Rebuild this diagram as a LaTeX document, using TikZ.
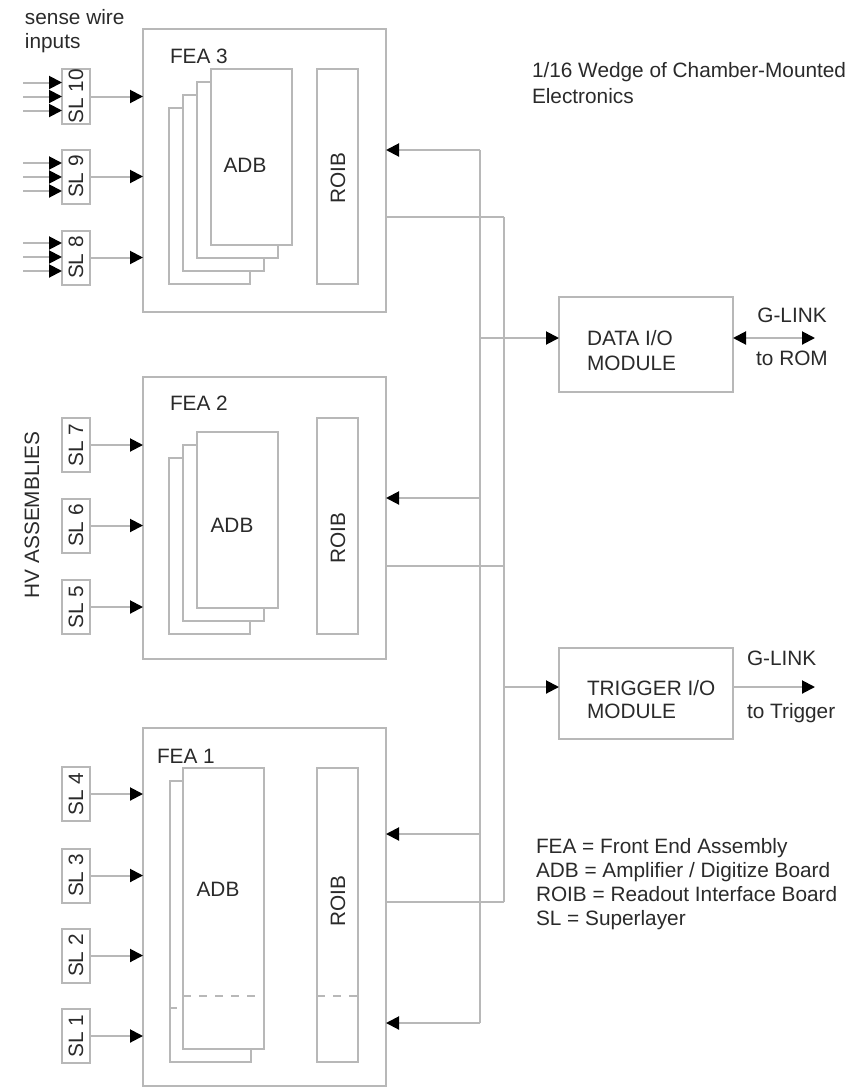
\documentclass[tikz,border=0pt]{standalone}
\usepackage{fontspec}
\setmainfont{Liberation Sans}
\usepackage{graphicx}
\usetikzlibrary{arrows.meta}
\definecolor{lg}{HTML}{B8B8B8}
\definecolor{tx}{HTML}{2A2A2A}
\begin{document}
\begin{tikzpicture}[x=0.5pt,y=-0.5pt,
  every node/.style={font=\fontsize{10.4}{12}\selectfont, text=tx, inner sep=0pt, outer sep=0pt},
  sz/.style 2 args={minimum width=#1*0.5pt, minimum height=#2*0.5pt},
  box/.style={draw=lg, line width=1pt, fill=white},
  ln/.style={draw=lg, line width=1pt},
  dsh/.style={draw=lg, line width=1pt, dash pattern=on 4pt off 4pt},
  arr/.style={draw=lg, line width=1pt, -{Triangle[length=6.5pt,width=6.5pt,color=black]}},
  darr/.style={draw=lg, line width=1pt, {Triangle[length=6.5pt,width=6.5pt,color=black]}-{Triangle[length=6.5pt,width=6.5pt,color=black]}},
  lbl/.style={anchor=west, align=left},
  rot/.style={rotate=90}
]
\useasboundingbox (0,0) rectangle (855,1088);

% ---------- FEA boxes ----------
\node[box, sz={243}{283}] (fea3) at (264.5,170.5) {};
\node[box, sz={243}{282}] (fea2) at (264.5,518) {};
\node[box, sz={243}{358}] (fea1) at (264.5,907) {};

\node[lbl] (fea3l) at (170,56) {FEA 3};
\node[lbl] (fea2l) at (170,403) {FEA 2};
\node[lbl] (fea1l) at (157,756) {FEA 1};

% ---------- ADB stacks ----------
\node[box, sz={81}{176}] (adb3d) at (209.5,196) {};
\node[box, sz={81}{176}] (adb3c) at (223.5,183) {};
\node[box, sz={81}{176}] (adb3b) at (237.5,170) {};
\node[box, sz={81}{176}] (adb3a) at (251.5,157) {};
\node (adb3t) at (245,165) {ADB};

\node[box, sz={81}{176}] (adb2c) at (209.5,546) {};
\node[box, sz={81}{176}] (adb2b) at (223.5,533) {};
\node[box, sz={81}{176}] (adb2a) at (237.5,520) {};
\node (adb2t) at (232,525) {ADB};

\node[box, sz={81}{281}] (adb1b) at (210.5,921.5) {};
\draw[ln] (170,1008) -- (177,1008);
\node[box, sz={81}{281}] (adb1a) at (223.5,908.5) {};
\draw[dsh] (adb1a.west |- 0,996) -- (adb1a.east |- 0,996);
\node (adb1t) at (218,889) {ADB};

% ---------- ROIBs ----------
\node[box, sz={41}{215}] (roib3) at (337.5,176.5) {};
\node[rot] (roib3t) at (338,178) {ROIB};
\node[box, sz={41}{216}] (roib2) at (337.5,526) {};
\node[rot] (roib2t) at (338,538) {ROIB};
\node[box, sz={41}{294}] (roib1) at (337.5,915) {};
\draw[dsh] (roib1.west |- 0,996) -- (roib1.east |- 0,996);
\node[rot] (roib1t) at (338,901) {ROIB};

% ---------- SL boxes ----------
\node[box, sz={28}{54}] (sl10) at (76,96.5) {\rotatebox{90}{SL 10}};
\node[box, sz={28}{54}] (sl9) at (76,176.5) {\rotatebox{90}{SL 9}};
\node[box, sz={28}{54}] (sl8) at (76,257.5) {\rotatebox{90}{SL 8}};
\node[box, sz={28}{54}] (sl7) at (76,445) {\rotatebox{90}{SL 7}};
\node[box, sz={28}{54}] (sl6) at (76,525.5) {\rotatebox{90}{SL 6}};
\node[box, sz={28}{54}] (sl5) at (76,607) {\rotatebox{90}{SL 5}};
\node[box, sz={28}{54}] (sl4) at (76,794) {\rotatebox{90}{SL 4}};
\node[box, sz={28}{54}] (sl3) at (76,875.5) {\rotatebox{90}{SL 3}};
\node[box, sz={28}{54}] (sl2) at (76,955.5) {\rotatebox{90}{SL 2}};
\node[box, sz={28}{54}] (sl1) at (76,1036) {\rotatebox{90}{SL 1}};

% SL -> FEA arrows
\foreach \s/\f in {sl10/fea3, sl9/fea3, sl8/fea3, sl7/fea2, sl6/fea2, sl5/fea2, sl4/fea1, sl3/fea1, sl2/fea1, sl1/fea1}
  \draw[arr] (\s.east) -- (\s.east -| \f.west);

% sense wire inputs (three per SL box)
\foreach \s/\y in {sl10/96.5, sl9/177, sl8/257}{
  \foreach \d in {-14,0,14}{
    \coordinate (in) at (23,\y+\d);
    \draw[arr] (in) -- (in -| \s.west);
  }
}

\node[lbl] (sense) at (25,31) {sense wire\\inputs};
\node[rot] (hv) at (32,515) {HV ASSEMBLIES};

% ---------- I/O modules ----------
\node[box, sz={174}{95}] (dataio) at (646,344.5) {};
\node[lbl, font=\fontsize{10.4}{12.5}\selectfont] (dataiot) at (587,350.5) {DATA I/O\\MODULE};
\node[box, sz={174}{91}] (trigio) at (646,693.5) {};
\node[lbl, font=\fontsize{10.4}{11.5}\selectfont] (trigiot) at (587,699.5) {TRIGGER I/O\\MODULE};

% ---------- bus lines ----------
\coordinate (a1) at (480,150);
\coordinate (a2) at (480,498);
\coordinate (a3) at (480,834);
\coordinate (a4) at (480,1023);
\coordinate (ad) at (480,338);
\coordinate (b1) at (504,217);
\coordinate (b2) at (504,566);
\coordinate (b3) at (504,902);
\coordinate (bt) at (504,687);

\draw[ln] (a1) -- (a4);
\draw[ln] (b1) -- (b3);
\draw[arr] (a1) -- (a1 -| fea3.east);
\draw[arr] (a2) -- (a2 -| fea2.east);
\draw[arr] (a3) -- (a3 -| fea1.east);
\draw[arr] (a4) -- (a4 -| fea1.east);
\draw[ln] (b1 -| fea3.east) -- (b1);
\draw[ln] (b2 -| fea2.east) -- (b2);
\draw[ln] (b3 -| fea1.east) -- (b3);
\draw[arr] (ad) -- (ad -| dataio.west);
\draw[arr] (bt) -- (bt -| trigio.west);

% ---------- G-LINKs ----------
\coordinate (rom) at (815,338);
\draw[darr] (rom -| dataio.east) -- (rom);
\node (gl1) at (792,315) {G-LINK};
\node (torom) at (792,358) {to ROM};

\coordinate (trg) at (815,687);
\draw[arr] (trg -| trigio.east) -- (trg);
\node[anchor=west] (gl2) at (747,658) {G-LINK};
\node[anchor=west] (totrg) at (747,713) {to Trigger};

% ---------- title and legend ----------
\node[lbl, font=\fontsize{10.4}{13}\selectfont] (title) at (532,83.5) {1/16 Wedge of Chamber-Mounted\\Electronics};
\node[lbl] (legend) at (536,884) {FEA = Front End Assembly\\ADB = Amplifier / Digitize Board\\ROIB = Readout Interface Board\\SL = Superlayer};

\end{tikzpicture}
\end{document}
